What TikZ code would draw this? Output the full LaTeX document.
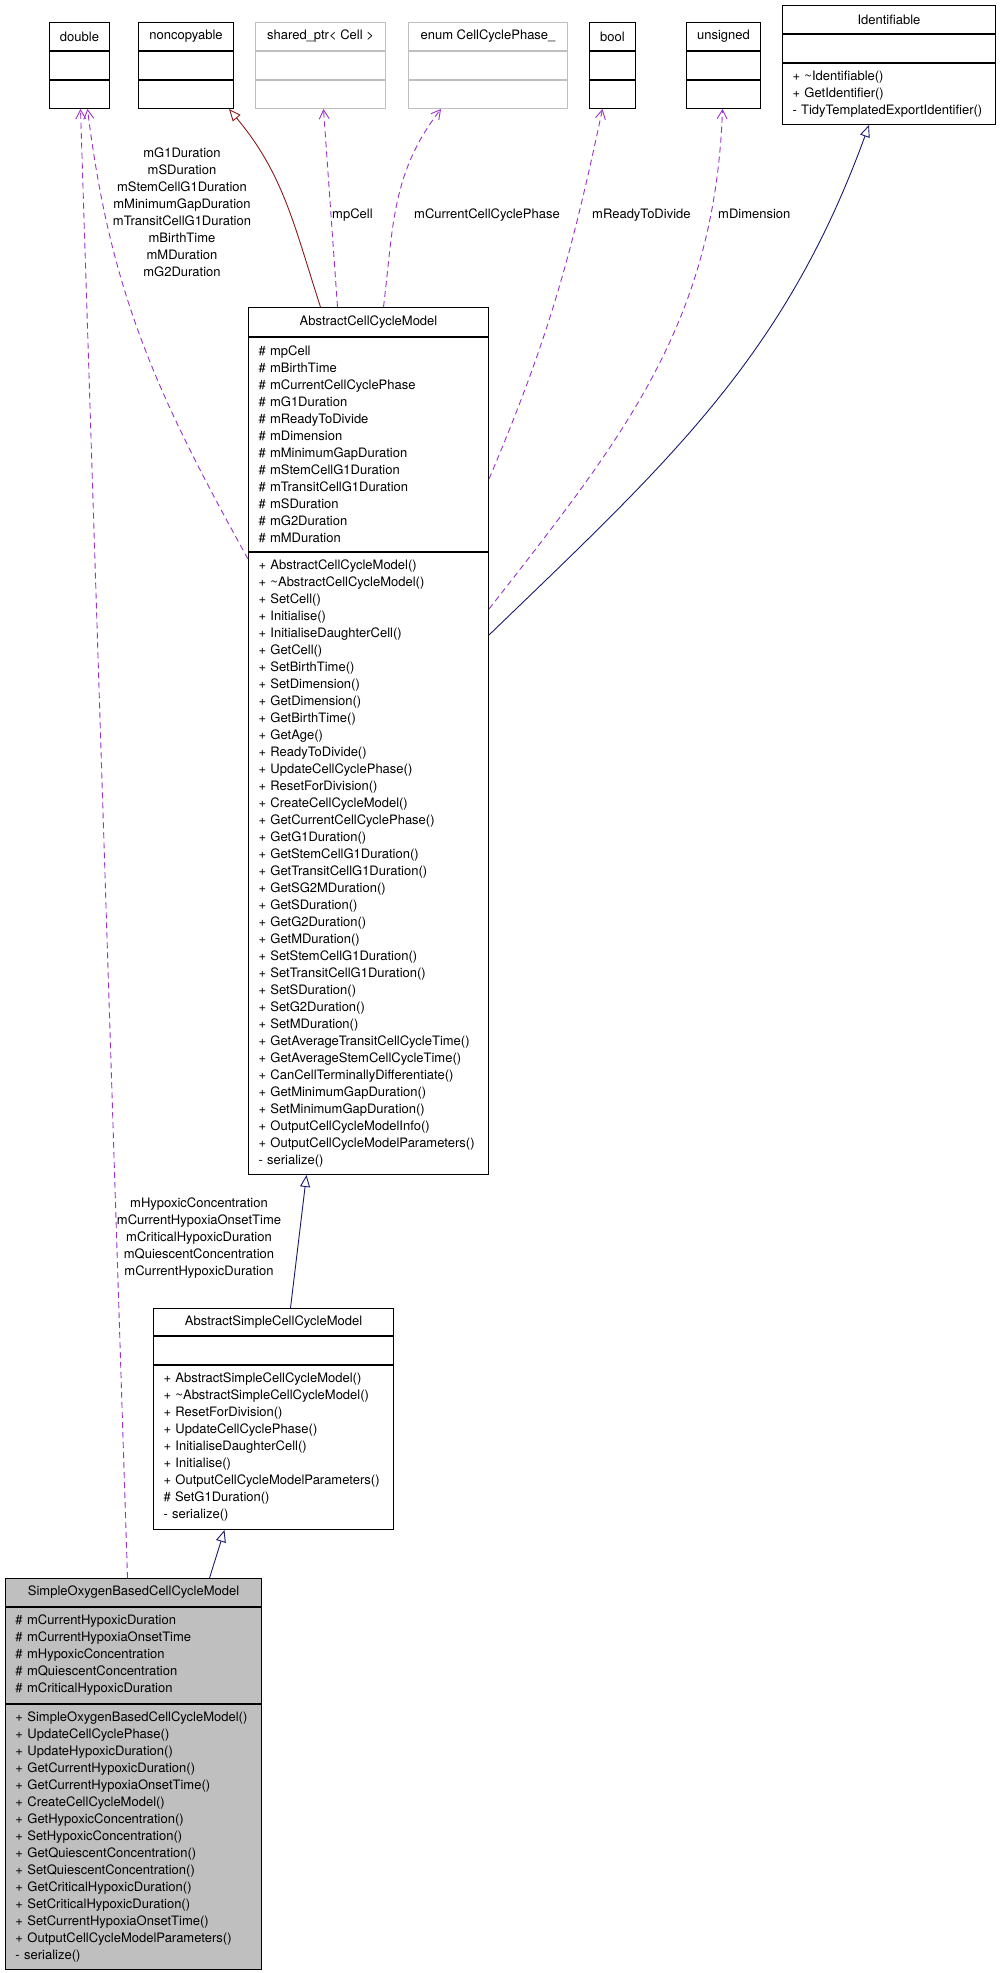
\documentclass[tikz,border=0pt]{standalone}
\usepackage{fontspec}
\setmainfont{TeX Gyre Heros}
\usetikzlibrary{arrows.meta,positioning}
\definecolor{usagepurple}{HTML}{9A32CD}
\definecolor{navy}{HTML}{191970}
\definecolor{darkred}{HTML}{8B1A1A}
\definecolor{boxgray}{HTML}{BFBFBF}

\begin{document}
\begin{tikzpicture}[x=1pt,y=1pt,
    every node/.style={font=\fontsize{13}{17}\selectfont},
    hd/.style={draw,fill=white,line width=1pt,inner sep=0pt,align=center},
    mem/.style={draw,fill=white,line width=1pt,inner xsep=10pt,inner ysep=0pt,align=left},
    ghost/.style={draw=boxgray},
    lbl/.style={inner sep=0pt,align=center},
    usage/.style={draw=usagepurple,line width=0.9pt,dash pattern=on 6pt off 4pt,
      -{Straight Barb[length=9pt,width=10pt]}},
    inherit/.style={line width=0.9pt,-{Triangle[open,length=12pt,width=10pt]}}]
    \useasboundingbox (0,0) rectangle (999,-1973);
    % used types along the top
    \node[hd,minimum width=60pt,minimum height=28pt,anchor=north west] (dblhd) at (49,-22) {double};
    \node[mem,below=0pt of dblhd,text width=40pt,minimum height=28pt] (dblat) {};
    \node[mem,below=0pt of dblat,text width=40pt,minimum height=28pt] (dblop) {};
    \node[hd,minimum width=95pt,minimum height=28pt,anchor=north west] (nchd) at (138,-22) {noncopyable};
    \node[mem,below=0pt of nchd,text width=75pt,minimum height=28pt] (ncat) {};
    \node[mem,below=0pt of ncat,text width=75pt,minimum height=28pt] (ncop) {};
    \node[hd,ghost,minimum width=130pt,minimum height=28pt,anchor=north west] (sphd) at (255,-22) {shared\_ptr< Cell >};
    \node[mem,ghost,below=0pt of sphd,text width=110pt,minimum height=28pt] (spat) {};
    \node[mem,ghost,below=0pt of spat,text width=110pt,minimum height=28pt] (spop) {};
    \node[hd,ghost,minimum width=159pt,minimum height=28pt,anchor=north west] (enhd) at (408,-22) {enum CellCyclePhase\_};
    \node[mem,ghost,below=0pt of enhd,text width=139pt,minimum height=28pt] (enat) {};
    \node[mem,ghost,below=0pt of enat,text width=139pt,minimum height=28pt] (enop) {};
    \node[hd,minimum width=46pt,minimum height=28pt,anchor=north west] (boolhd) at (589,-22) {bool};
    \node[mem,below=0pt of boolhd,text width=26pt,minimum height=28pt] (boolat) {};
    \node[mem,below=0pt of boolat,text width=26pt,minimum height=28pt] (boolop) {};
    \node[hd,minimum width=74pt,minimum height=28pt,anchor=north west] (unshd) at (686,-22) {unsigned};
    \node[mem,below=0pt of unshd,text width=54pt,minimum height=28pt] (unsat) {};
    \node[mem,below=0pt of unsat,text width=54pt,minimum height=28pt] (unsop) {};
    \node[hd,minimum width=213pt,minimum height=28pt,anchor=north west] (idhd) at (782,-5) {Identifiable};
    \node[mem,below=0pt of idhd,text width=193pt,minimum height=28pt] (idat) {};
    \node[mem,below=0pt of idat,text width=193pt,minimum height=61pt] (idop)
      {+ \textasciitilde Identifiable()\\+ GetIdentifier()\\- TidyTemplatedExportIdentifier()};
    % AbstractCellCycleModel
    \node[hd,minimum width=240pt,minimum height=29pt,anchor=north west] (acmhd) at (248,-307) {AbstractCellCycleModel};
    \node[mem,below=0pt of acmhd,text width=220pt,minimum height=214pt] (acmat)
      {\# mpCell\\\# mBirthTime\\\# mCurrentCellCyclePhase\\\# mG1Duration\\\# mReadyToDivide\\
       \# mDimension\\\# mMinimumGapDuration\\\# mStemCellG1Duration\\\# mTransitCellG1Duration\\
       \# mSDuration\\\# mG2Duration\\\# mMDuration};
    \node[mem,below=0pt of acmat,text width=220pt,minimum height=622pt] (acmop)
      {+ AbstractCellCycleModel()\\+ \textasciitilde AbstractCellCycleModel()\\+ SetCell()\\+ Initialise()\\
       + InitialiseDaughterCell()\\+ GetCell()\\+ SetBirthTime()\\+ SetDimension()\\+ GetDimension()\\
       + GetBirthTime()\\+ GetAge()\\+ ReadyToDivide()\\+ UpdateCellCyclePhase()\\+ ResetForDivision()\\
       + CreateCellCycleModel()\\+ GetCurrentCellCyclePhase()\\+ GetG1Duration()\\+ GetStemCellG1Duration()\\
       + GetTransitCellG1Duration()\\+ GetSG2MDuration()\\+ GetSDuration()\\+ GetG2Duration()\\
       + GetMDuration()\\+ SetStemCellG1Duration()\\+ SetTransitCellG1Duration()\\+ SetSDuration()\\
       + SetG2Duration()\\+ SetMDuration()\\+ GetAverageTransitCellCycleTime()\\
       + GetAverageStemCellCycleTime()\\+ CanCellTerminallyDifferentiate()\\+ GetMinimumGapDuration()\\
       + SetMinimumGapDuration()\\+ OutputCellCycleModelInfo()\\+ OutputCellCycleModelParameters()\\
       - serialize()};
    % AbstractSimpleCellCycleModel
    \node[hd,minimum width=240pt,minimum height=27pt,anchor=north west] (ashd) at (153,-1308) {AbstractSimpleCellCycleModel};
    \node[mem,below=0pt of ashd,text width=220pt,minimum height=28pt] (asat) {};
    \node[mem,below=0pt of asat,text width=220pt,minimum height=164pt] (asop)
      {+ AbstractSimpleCellCycleModel()\\+ \textasciitilde AbstractSimpleCellCycleModel()\\+ ResetForDivision()\\
       + UpdateCellCyclePhase()\\+ InitialiseDaughterCell()\\+ Initialise()\\
       + OutputCellCycleModelParameters()\\\# SetG1Duration()\\- serialize()};
    % SimpleOxygenBasedCellCycleModel
    \node[hd,fill=boxgray,minimum width=256pt,minimum height=28pt,anchor=north west] (sohd) at (5,-1578) {SimpleOxygenBasedCellCycleModel};
    \node[mem,fill=boxgray,below=0pt of sohd,text width=236pt,minimum height=96pt] (soat)
      {\# mCurrentHypoxicDuration\\\# mCurrentHypoxiaOnsetTime\\\# mHypoxicConcentration\\
       \# mQuiescentConcentration\\\# mCriticalHypoxicDuration};
    \node[mem,fill=boxgray,below=0pt of soat,text width=236pt,minimum height=265pt] (soop)
      {+ SimpleOxygenBasedCellCycleModel()\\+ UpdateCellCyclePhase()\\+ UpdateHypoxicDuration()\\
       + GetCurrentHypoxicDuration()\\+ GetCurrentHypoxiaOnsetTime()\\+ CreateCellCycleModel()\\
       + GetHypoxicConcentration()\\+ SetHypoxicConcentration()\\+ GetQuiescentConcentration()\\
       + SetQuiescentConcentration()\\+ GetCriticalHypoxicDuration()\\+ SetCriticalHypoxicDuration()\\
       + SetCurrentHypoxiaOnsetTime()\\+ OutputCellCycleModelParameters()\\- serialize()};
    % connectors
    \draw[inherit,darkred] ([xshift=-48pt]acmhd.north) to[out=108,in=-50] ([xshift=-5pt]ncop.south east);
    \draw[usage] ([xshift=-31pt]acmhd.north) -- ([xshift=3pt]spop.south);
    \draw[usage] ([xshift=15pt]acmhd.north) to[out=83,in=-128] ([xshift=-47pt]enop.south);
    \draw[usage] ([yshift=73pt]acmat.south east) to[out=67,in=-102] ([xshift=-10pt]boolop.south);
    \draw[usage] ([yshift=-57pt]acmop.north east) to[out=52,in=-92] ([xshift=-1pt]unsop.south);
    \draw[inherit,navy] ([yshift=-83pt]acmop.north east) to[out=44,in=-110] ([xshift=-20pt]idop.south);
    \draw[usage] ([yshift=-7pt]acmop.north west) to[out=119,in=-83] ([xshift=8pt]dblop.south);
    \draw[usage] ([xshift=-6pt]sohd.north) -- ([xshift=1pt]dblop.south);
    \draw[inherit,navy] ([xshift=17pt]ashd.north) -- ([xshift=-62pt]acmop.south);
    \draw[inherit,navy] ([xshift=76pt]sohd.north) -- ([xshift=-49pt]asop.south);
    % connector labels
    \node[lbl] (dbllbl) at (182,-212.5) {mG1Duration\\mSDuration\\mStemCellG1Duration\\mMinimumGapDuration\\
      mTransitCellG1Duration\\mBirthTime\\mMDuration\\mG2Duration};
    \node[lbl,anchor=base west] (celllbl) at (332,-218) {mpCell};
    \node[lbl,anchor=base west] (phaselbl) at (414,-218) {mCurrentCellCyclePhase};
    \node[lbl,anchor=base west] (readylbl) at (592,-218) {mReadyToDivide};
    \node[lbl,anchor=base west] (dimlbl) at (718,-218) {mDimension};
    \node[lbl] (hypoxlbl) at (199,-1238) {mHypoxicConcentration\\mCurrentHypoxiaOnsetTime\\
      mCriticalHypoxicDuration\\mQuiescentConcentration\\mCurrentHypoxicDuration};
\end{tikzpicture}
\end{document}
